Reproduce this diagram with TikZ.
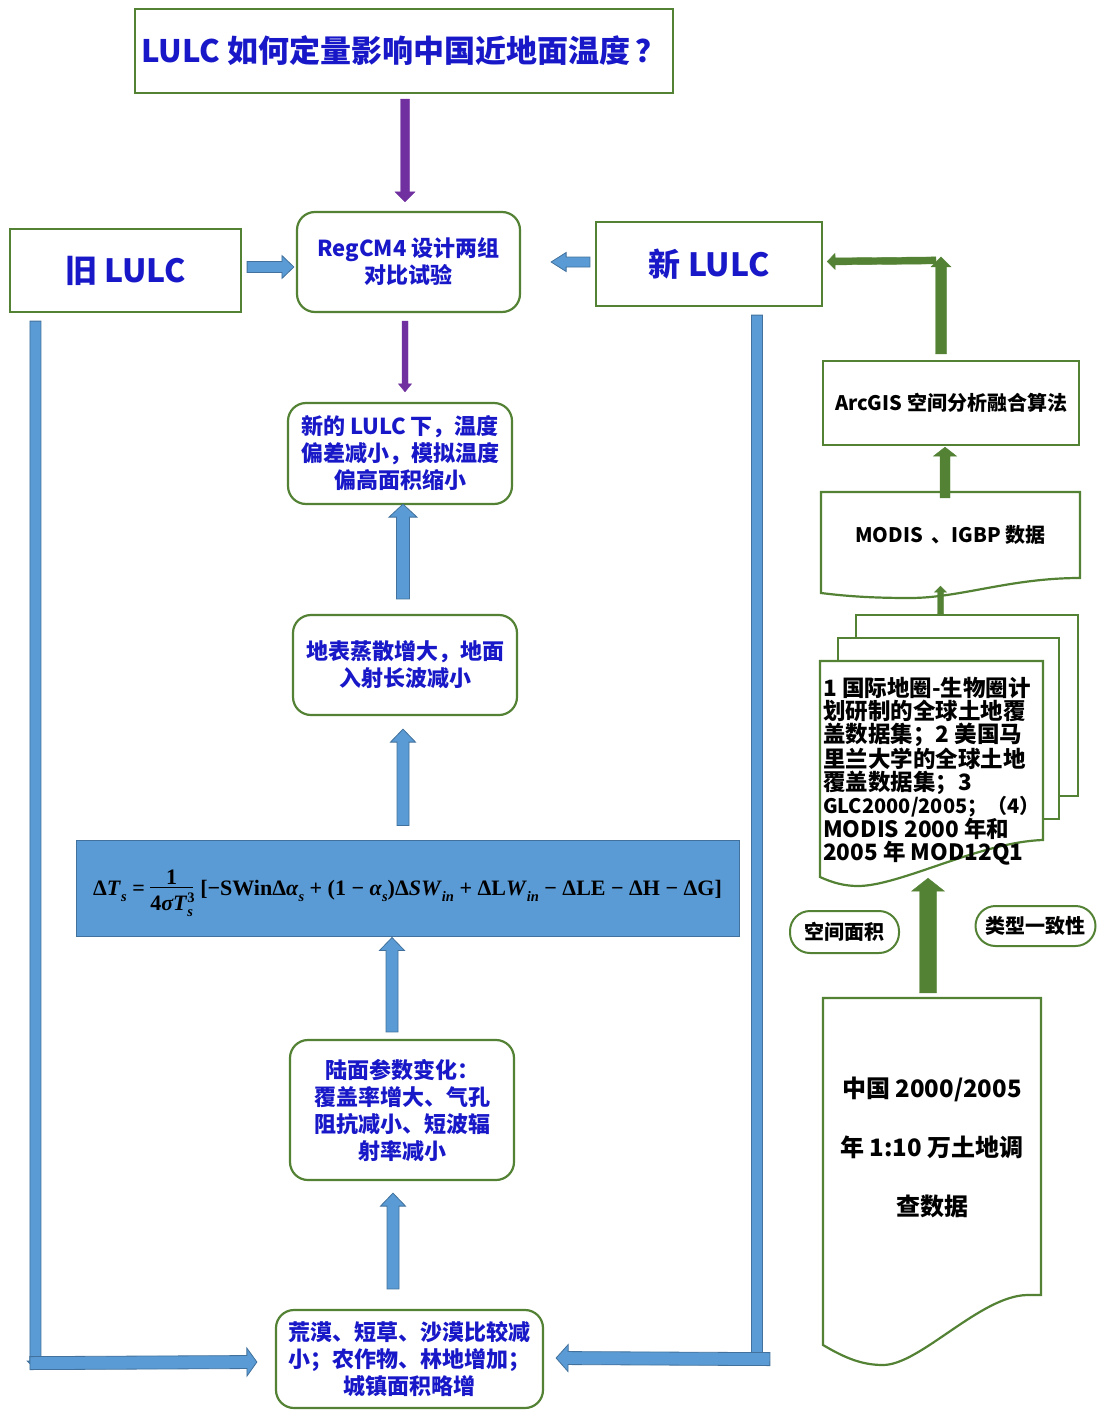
\documentclass[tikz,border=0pt]{standalone}
\usepackage[no-math]{fontspec}
\setmainfont{Noto Sans CJK SC}
\newfontfamily\eqf{Liberation Serif}
\usetikzlibrary{calc}
\definecolor{gline}{RGB}{84,130,53}
\definecolor{btext}{RGB}{24,24,200}
\definecolor{barrfill}{RGB}{91,155,213}
\definecolor{barrline}{RGB}{65,113,156}
\definecolor{parr}{RGB}{112,48,160}
\definecolor{garr}{RGB}{84,130,53}
% block arrow: #1 style, #2 from, #3 to, #4 half shaft, #5 half head, #6 head length
\newcommand\barrow[6]{%
  \coordinate (bA) at #2;
  \coordinate (bB) at #3;
  \coordinate (bN) at ($(bB)!#6!(bA)$);
  \filldraw[#1] ($(bA)!#4!90:(bB)$) -- ($(bN)!#4!90:(bB)$) -- ($(bN)!#5!90:(bB)$) -- (bB)
     -- ($(bN)!#5!-90:(bB)$) -- ($(bN)!#4!-90:(bB)$) -- ($(bA)!#4!-90:(bB)$) -- cycle;}
\newcommand\eqsub[1]{\raisebox{-0.28em}{\fontsize{14.5}{14.5}\selectfont\itshape #1}}
\newcommand\eqfrac[2]{\raisebox{-0.12em}{\begin{tabular}{@{}c@{}}#1\\[-5pt]\hline\rule{0pt}{1.05em}#2\end{tabular}}}
\newcommand\eqtext{{\eqf\bfseries Δ\textit{T}\eqsub{s} = \eqfrac{1}{4\textit{σT}\makebox[0pt][l]{\raisebox{0.36em}{\fontsize{14.5}{14.5}\selectfont 3}}\eqsub{s}}\,\,[−SWinΔ\textit{α}\eqsub{s} + (1 − \textit{α}\eqsub{s})Δ\textit{SW}\eqsub{in} + ΔL\textit{W}\eqsub{in} − ΔLE − ΔH − ΔG]}}
\begin{document}
\begin{tikzpicture}[x=1pt,y=-1pt,
  sqbox/.style={draw=gline,line width=2.2pt,fill=white,inner sep=0pt,align=center},
  rbox/.style={sqbox,rounded corners=18pt},
  bluetxt/.style={text=btext,font=\bfseries\fontsize{22}{27}\selectfont},
  blacktxt/.style={text=black,font=\bfseries\fontsize{20}{24}\selectfont},
  docline/.style={draw=gline,line width=2.2pt,fill=white},
  bluearr/.style={fill=barrfill,draw=barrline,line width=0.8pt},
  purplearr/.style={fill=parr,draw=parr,line width=0.4pt},
  greenarr/.style={fill=garr,draw=garr,line width=0.4pt},
  pill/.style={draw=gline,line width=2pt,fill=white,rounded corners=20pt,inner sep=0pt,align=center},
  eqbox/.style={draw=barrline,fill=barrfill,line width=1pt,inner sep=0pt}
]
\useasboundingbox (0,0) rectangle (1097,1410);

% ---------- left / centre column ----------
\node[sqbox,minimum width=538pt,minimum height=84pt,text=btext,font=\bfseries\fontsize{31}{36}\selectfont] (title) at (404,51) {LULC 如何定量影响中国近地面温度\,？};
\node[sqbox,minimum width=231pt,minimum height=83pt,text=btext,font=\bfseries\fontsize{32}{38}\selectfont] (old) at (125.5,270.5) {旧 LULC};
\node[rbox,minimum width=223pt,minimum height=100pt,bluetxt] (reg) at (408.5,262) {RegCM4 设计两组\\对比试验};
\node[sqbox,minimum width=226pt,minimum height=84pt,text=btext,font=\bfseries\fontsize{32}{38}\selectfont] (new) at (709,264) {新 LULC};
\node[rbox,minimum width=224pt,minimum height=101pt,bluetxt] (res) at (400,453.5) {新的 LULC 下，温度\\偏差减小，模拟温度\\偏高面积缩小};
\node[rbox,minimum width=224pt,minimum height=100pt,bluetxt] (evap) at (405,665) {地表蒸散增大，地面\\入射长波减小};
\node[eqbox,minimum width=663pt,minimum height=96pt] (eqn) at (407.5,888) {};
\node[inner sep=0pt,anchor=base,font=\fontsize{22}{26}\selectfont] (eqntext) at ($(eqn.center)+(0,7)$) {\eqtext};
\node[rbox,minimum width=224pt,minimum height=140pt,bluetxt] (param) at (402,1110) {陆面参数变化：\\覆盖率增大、气孔\\阻抗减小、短波辐\\射率减小};
\node[rbox,minimum width=267pt,minimum height=98pt,bluetxt] (lulcchg) at (409.5,1359) {荒漠、短草、沙漠比较减\\小；农作物、林地增加；\\城镇面积略增};

% ---------- right column ----------
\node[sqbox,minimum width=256pt,minimum height=84pt,blacktxt] (arc) at (951,403) {ArcGIS 空间分析融合算法};

\draw[docline] (821,492) -- (1080,492) -- (1080,578) .. controls (1010,578) and (960,598) .. (910,598) .. controls (870,598) and (845,596) .. (821,593) -- cycle;
\node[minimum width=259pt,minimum height=86pt,inner sep=0pt,blacktxt] (modis) at (950.5,535) {MODIS\ \ 、IGBP 数据};

\node[sqbox,minimum width=222pt,minimum height=181pt] (sheetb) at (967,705.5) {};
\node[sqbox,minimum width=221pt,minimum height=181pt] (sheetm) at (948.5,728.5) {};
\draw[docline] (820,661) -- (1043,661) -- (1043,840) .. controls (980,842) and (900,886) .. (858,886) .. controls (845,886) and (833,883) .. (820,877) -- cycle;
\node[minimum width=223pt,minimum height=216pt,inner sep=0pt] (stackf) at (931.5,769) {};
\node[anchor=north west,align=left,inner sep=0pt,font=\bfseries\fontsize{22.5}{23}\selectfont] (stacktxt) at (823,677) {1 国际地圈-生物圈计\\划研制的全球土地覆\\盖数据集；2 美国马\\里兰大学的全球土地\\覆盖数据集；3\\{\fontsize{20}{23}\selectfont GLC2000/2005；（4）}\\MODIS 2000 年和\\2005 年 MOD12Q1};

\node[pill,minimum width=109pt,minimum height=42pt,blacktxt] (sp) at (844.5,932) {空间面积};
\node[pill,minimum width=120pt,minimum height=40pt,blacktxt] (lx) at (1035.5,926) {类型一致性};

\draw[docline] (823,998) -- (1041,998) -- (1041,1295) -- (1027,1295) .. controls (980,1296) and (920,1365) .. (883,1365) .. controls (862,1365) and (845,1358) .. (823,1345) -- cycle;
\node[minimum width=218pt,minimum height=298pt,inner sep=0pt,align=center,font=\bfseries\fontsize{24}{59}\selectfont] (land) at (932,1147) {中国 2000/2005\\年 1:10 万土地调\\查数据};

% ---------- connectors ----------
\barrow{purplearr}{($(title.south)+(1,5)$)}{($(reg.north)+(-3.5,-9)$)}{4.5pt}{10pt}{10pt}
\barrow{bluearr}{($(old.east)+(5,-3.5)$)}{($(reg.west)+(-2,5)$)}{5.5pt}{11.5pt}{12pt}
\barrow{bluearr}{($(new.west)+(-5,-2)$)}{($(reg.east)+(30,0)$)}{5pt}{9.5pt}{15pt}
\barrow{purplearr}{($(reg.south)+(-3.5,8)$)}{($(res.north)+(5,-10)$)}{3pt}{6.5pt}{8pt}
\barrow{bluearr}{($(evap.north)+(-2,-15)$)}{($(res.south)+(3,-1)$)}{6.5pt}{14pt}{13pt}
\barrow{bluearr}{($(eqn.north)+(-4.5,-14)$)}{($(evap.south)+(-2,13)$)}{6pt}{12.5pt}{13pt}
\barrow{bluearr}{($(param.north)+(-10,-7)$)}{($(eqn.south)+(-15.5,1)$)}{6pt}{12.5pt}{13pt}
\barrow{bluearr}{($(lulcchg.north)+(-16.5,-20)$)}{($(param.south)+(-9,12)$)}{6pt}{12.5pt}{13pt}

\coordinate (lc) at ($(old.south west)+(26.5,1056)$);
\barrow{bluearr}{($(old.south west)+(26.5,8)$)}{(lc)}{5.5pt}{8pt}{8pt}
\barrow{bluearr}{($(lc)+(-5.5,-6)$)}{($(lulcchg.west)+(-18,3)$)}{6.5pt}{14pt}{10pt}

\coordinate (rc) at ($(new.south west)+(162,1054)$);
\barrow{bluearr}{($(new.south west)+(162,8)$)}{(rc)}{5.5pt}{8pt}{8pt}
\barrow{bluearr}{($(rc)+(13,-2)$)}{($(lulcchg.east)+(12,-1)$)}{6.5pt}{13.5pt}{12pt}

\coordinate (gc) at ($(arc.north)+(-10,-103)$);
\barrow{greenarr}{($(arc.north)+(-10,-6)$)}{(gc)}{5.5pt}{10pt}{10pt}
\barrow{greenarr}{($(gc)+(-5,3.5)$)}{($(new.east)+(4,-2.5)$)}{3.5pt}{8pt}{8pt}
\barrow{greenarr}{($(modis.north)+(-5.5,6)$)}{($(arc.south)+(-6,1)$)}{5pt}{11.5pt}{9pt}
\barrow{greenarr}{($(sheetb.north)+(-26.5,0)$)}{($(modis.south)+(-10,8)$)}{3pt}{6pt}{6pt}
\barrow{greenarr}{($(land.north)+(-4,-5)$)}{($(stackf.south)+(-3.5,1)$)}{8.5pt}{16.5pt}{13pt}
\end{tikzpicture}
\end{document}
